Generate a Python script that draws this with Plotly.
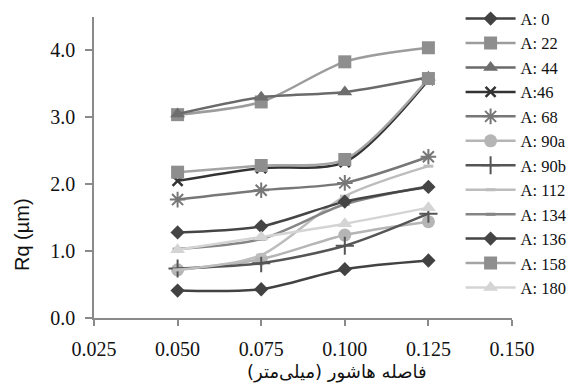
import plotly.graph_objects as go

x_vals = [0.050, 0.075, 0.100, 0.125]

series_names = ["A: 0", "A: 22", "A: 44", "A:46", "A: 68", "A: 90a", "A: 90b",
                "A: 112", "A: 134", "A: 136", "A: 158", "A: 180"]

A0 = [0.41, 0.43, 0.73, 0.86]
A22 = [3.04, 3.23, 3.83, 4.04]
A44 = [3.05, 3.30, 3.38, 3.60]
A46 = [2.05, 2.24, 2.33, 3.56]
A68 = [1.77, 1.91, 2.02, 2.41]
A90a = [0.72, 0.88, 1.24, 1.44]
A90b = [0.74, 0.82, 1.08, 1.56]
A112 = [0.72, 0.94, 1.82, 2.27]
A134 = [1.03, 1.18, 1.70, 1.97]
A136 = [1.28, 1.37, 1.74, 1.96]
A158 = [2.18, 2.28, 2.37, 3.58]
A180 = [1.02, 1.21, 1.41, 1.65]

y_series = [A0, A22, A44, A46, A68, A90a, A90b, A112, A134, A136, A158, A180]

x_ticks = [0.025, 0.050, 0.075, 0.100, 0.125, 0.150]
y_ticks = [0.0, 1.0, 2.0, 3.0, 4.0]

styles = [
    dict(line="#424242", mk="#424242", sym="diamond", size=11, lw=0),
    dict(line="#9c9c9c", mk="#8e8e8e", sym="square", size=13, lw=0),
    dict(line="#6a6a6a", mk="#6e6e6e", sym="triangle-up", size=13, lw=0),
    dict(line="#333333", mk="#333333", sym="x-thin-open", size=10, lw=2.5),
    dict(line="#777777", mk="#777777", sym="asterisk-open", size=13, lw=2),
    dict(line="#b5b5b5", mk="#b5b5b5", sym="circle", size=13, lw=0),
    dict(line="#555555", mk="#555555", sym="cross-thin-open", size=13, lw=2),
    dict(line="#bdbdbd", mk="#bdbdbd", sym="line-ew-open", size=7, lw=3),
    dict(line="#858585", mk="#858585", sym="line-ew-open", size=7, lw=3),
    dict(line="#454545", mk="#454545", sym="diamond", size=11, lw=0),
    dict(line="#a4a4a4", mk="#8e8e8e", sym="square", size=13, lw=0),
    dict(line="#d4d4d4", mk="#d4d4d4", sym="triangle-up", size=13, lw=0),
]

fig = go.Figure()
for name, ys, st in zip(series_names, y_series, styles):
    fig.add_trace(go.Scatter(
        x=x_vals, y=ys, name=name, mode="lines+markers",
        line=dict(color=st["line"], width=2.5, shape="spline", smoothing=0.8),
        marker=dict(symbol=st["sym"], size=st["size"], color=st["mk"],
                    line=dict(color=st["mk"], width=st["lw"])),
    ))

axis_col = "#8a8a8a"
tick_font = dict(family="Liberation Serif", size=20, color="#111111")

fig.update_layout(
    width=573, height=375,
    margin=dict(l=86, r=69, t=9, b=65, autoexpand=False),
    paper_bgcolor="white", plot_bgcolor="white",
    showlegend=True,
    legend=dict(x=0.877, xanchor="left", y=1.052, yanchor="top",
                font=dict(family="Liberation Serif", size=16.5, color="#111111"),
                bgcolor="rgba(0,0,0,0)", itemwidth=50, tracegroupgap=0,
                maxheight=380),
    xaxis=dict(range=[0.025, 0.150], tickvals=x_ticks, tickformat=".3f",
               showgrid=False, zeroline=False, showline=True, linecolor=axis_col,
               linewidth=1.5, ticks="outside", ticklen=6, tickcolor=axis_col,
               tickwidth=1.5, tickfont=tick_font, ticklabelstandoff=6),
    yaxis=dict(range=[0, 4.5], tickvals=y_ticks, tickformat=".1f",
               showgrid=False, zeroline=False, showline=True, linecolor=axis_col,
               linewidth=1.5, ticks="outside", ticklen=7, tickcolor=axis_col,
               tickwidth=1.5, tickfont=tick_font, ticklabelstandoff=6),
    annotations=[
        dict(text="Rq (µm)", xref="paper", yref="paper", x=-0.172, y=0.276,
             xanchor="center", yanchor="middle",
             showarrow=False, textangle=-90,
             font=dict(family="Liberation Sans", size=20, color="#111111")),
        dict(text="فاصله هاشور (میلی‌متر)", xref="paper", yref="paper",
             x=0.581, y=-0.179, xanchor="center", yanchor="middle",
             showarrow=False,
             font=dict(family="DejaVu Sans", size=18, color="#111111")),
    ],
)

fig.write_html("out.html")
